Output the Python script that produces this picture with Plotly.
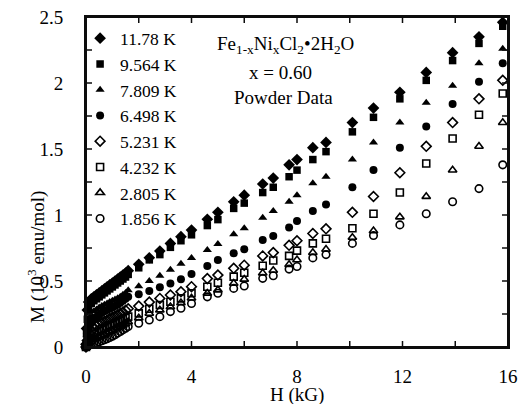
import plotly.graph_objects as go

# Field values (kG): dense low-field run followed by the main run
H_low = [0.0, 0.02, 0.05, 0.1, 0.2, 0.3, 0.4, 0.5, 0.6, 0.7, 0.8, 0.9, 1.0, 1.1, 1.2, 1.3, 1.4, 1.5]
H_main = [1.6, 2.0, 2.4, 2.8, 3.2, 3.6, 4.0, 4.6, 5.0, 5.6, 6.0, 6.7, 7.1, 7.7, 8.0, 8.6, 9.1,
          10.1, 10.9, 11.9, 12.9, 13.9, 14.9, 15.8]
H = H_low + H_main

temperatures = ["11.78 K", "9.564 K", "7.809 K", "6.498 K", "5.231 K", "4.232 K", "2.805 K", "1.856 K"]

# Magnetization (10^3 emu/mol)
M_1178 = [0.02, 0.14, 0.28, 0.34, 0.365, 0.38, 0.395, 0.41, 0.425, 0.44, 0.455, 0.47, 0.485, 0.50, 0.515, 0.53, 0.545, 0.56,
          0.578, 0.626, 0.676, 0.727, 0.785, 0.836, 0.886, 0.967, 1.02, 1.10, 1.15, 1.235, 1.28, 1.38, 1.42, 1.51, 1.55,
          1.70, 1.81, 1.93, 2.08, 2.23, 2.35, 2.46]
M_9564 = [0.01, 0.10, 0.21, 0.28, 0.33, 0.35, 0.365, 0.38, 0.395, 0.41, 0.425, 0.44, 0.455, 0.47, 0.485, 0.50, 0.515, 0.53,
          0.55, 0.60, 0.66, 0.70, 0.755, 0.805, 0.85, 0.92, 0.965, 1.05, 1.09, 1.17, 1.21, 1.29, 1.34, 1.42, 1.48,
          1.63, 1.74, 1.88, 2.02, 2.17, 2.30, 2.43]
M_7809 = [0.0, 0.06, 0.12, 0.18, 0.24, 0.27, 0.285, 0.30, 0.31, 0.32, 0.33, 0.34, 0.35, 0.36, 0.37, 0.38, 0.395, 0.41,
          0.43, 0.46, 0.50, 0.54, 0.585, 0.63, 0.675, 0.735, 0.78, 0.855, 0.90, 0.98, 1.03, 1.10, 1.15, 1.24, 1.29,
          1.42, 1.55, 1.70, 1.85, 1.98, 2.15, 2.26]
M_6498 = [0.0, 0.04, 0.08, 0.13, 0.18, 0.21, 0.23, 0.245, 0.26, 0.27, 0.28, 0.29, 0.30, 0.31, 0.32, 0.335, 0.35, 0.365,
          0.38, 0.40, 0.425, 0.452, 0.482, 0.513, 0.553, 0.614, 0.66, 0.71, 0.74, 0.81, 0.84, 0.905, 0.955, 1.03, 1.08,
          1.21, 1.34, 1.51, 1.67, 1.84, 2.01, 2.15]
M_5231 = [0.0, 0.02, 0.05, 0.08, 0.12, 0.145, 0.16, 0.175, 0.185, 0.195, 0.205, 0.215, 0.225, 0.235, 0.245, 0.255, 0.265, 0.278,
          0.29, 0.31, 0.34, 0.368, 0.394, 0.419, 0.457, 0.518, 0.545, 0.596, 0.62, 0.69, 0.715, 0.77, 0.805, 0.86, 0.895,
          1.02, 1.14, 1.32, 1.52, 1.70, 1.88, 2.02]
M_4232 = [0.0, 0.01, 0.03, 0.05, 0.08, 0.10, 0.115, 0.125, 0.135, 0.145, 0.155, 0.165, 0.17, 0.18, 0.19, 0.20, 0.21, 0.22,
          0.23, 0.255, 0.29, 0.318, 0.343, 0.368, 0.407, 0.457, 0.487, 0.533, 0.563, 0.615, 0.655, 0.69, 0.73, 0.785, 0.82,
          0.90, 1.01, 1.17, 1.39, 1.58, 1.76, 1.92]
M_2805 = [0.0, 0.005, 0.015, 0.025, 0.04, 0.055, 0.065, 0.075, 0.085, 0.095, 0.105, 0.115, 0.125, 0.135, 0.145, 0.155, 0.165, 0.175,
          0.19, 0.22, 0.255, 0.28, 0.305, 0.335, 0.37, 0.407, 0.432, 0.482, 0.513, 0.56, 0.58, 0.625, 0.66, 0.715, 0.74,
          0.83, 0.88, 0.985, 1.14, 1.34, 1.52, 1.70]
M_1856 = [0.0, 0.003, 0.008, 0.012, 0.02, 0.027, 0.033, 0.04, 0.047, 0.055, 0.063, 0.072, 0.082, 0.093, 0.105, 0.117, 0.13, 0.142,
          0.155, 0.18, 0.205, 0.23, 0.268, 0.293, 0.33, 0.38, 0.407, 0.444, 0.462, 0.52, 0.54, 0.59, 0.61, 0.675, 0.70,
          0.785, 0.845, 0.925, 1.01, 1.10, 1.20, 1.38]

series = [M_1178, M_9564, M_7809, M_6498, M_5231, M_4232, M_2805, M_1856]
symbols = ["diamond", "square", "triangle-up", "circle",
           "diamond-open", "square-open", "triangle-up-open", "circle-open"]
sizes = [9, 7.5, 8, 8, 7.5, 7, 7.5, 7.5]

# Axis ticks
x_range, x_major = [0, 16], 4
y_range, y_major = [0, 2.5], 0.5
x_tick_vals = [0, 2, 4, 6, 8, 10, 12, 14, 16]
y_tick_vals = [0, 0.25, 0.5, 0.75, 1, 1.25, 1.5, 1.75, 2, 2.25, 2.5]

FONT = "Liberation Serif, Times New Roman, serif"
INK = "rgb(12,12,12)"

fig = go.Figure()
for name, m, sym, sz in zip(temperatures, series, symbols, sizes):
    fig.add_trace(go.Scatter(
        x=H, y=m, mode="markers", name=name, cliponaxis=False,
        marker=dict(symbol=sym, size=sz, color="black",
                    line=dict(color="black", width=1.6 if "open" in sym else 0)),
    ))

axis_common = dict(showline=True, linecolor=INK, linewidth=2, mirror=True,
                   ticks="", showgrid=False, zeroline=False, automargin=False,
                   tickmode="linear", tick0=0)

# Frame and inside tick marks, placed through the axes' own scales
TICK_W, TICK_X_FRAC, TICK_Y_FRAC = 1.5, 6 / 330, 6 / 422
shapes = [dict(type="rect", xref="paper", yref="paper", x0=0, y0=0, x1=1, y1=1,
               fillcolor="rgba(0,0,0,0)", line=dict(color=INK, width=2), layer="above")]
for v in x_tick_vals:
    shapes.append(dict(type="line", xref="x", yref="y domain", x0=v, x1=v, y0=0, y1=TICK_X_FRAC,
                       line=dict(color=INK, width=TICK_W), layer="above"))
    shapes.append(dict(type="line", xref="x", yref="y domain", x0=v, x1=v, y0=1 - TICK_X_FRAC, y1=1,
                       line=dict(color=INK, width=TICK_W), layer="above"))
for v in y_tick_vals:
    shapes.append(dict(type="line", xref="x domain", yref="y", x0=0, x1=TICK_Y_FRAC, y0=v, y1=v,
                       line=dict(color=INK, width=TICK_W), layer="above"))
    shapes.append(dict(type="line", xref="x domain", yref="y", x0=1 - TICK_Y_FRAC, x1=1, y0=v, y1=v,
                       line=dict(color=INK, width=TICK_W), layer="above"))

fig.update_layout(
    width=521, height=404,
    margin=dict(l=86, r=13, t=17, b=57),
    paper_bgcolor="white", plot_bgcolor="white",
    font=dict(family=FONT, size=19, color="black"),
    xaxis=dict(range=x_range, dtick=x_major, ticklabelstandoff=11, **axis_common),
    yaxis=dict(range=y_range, dtick=y_major, ticklabelstandoff=17, **axis_common),
    legend=dict(x=-0.014, y=0.99, xanchor="left", yanchor="top", bgcolor="rgba(0,0,0,0)",
                itemwidth=30, font=dict(family=FONT, size=17.5, color="black"),
                tracegroupgap=0),
    showlegend=True,
    shapes=shapes,
    annotations=[
        dict(text="Fe<sub>1-x</sub>Ni<sub>x</sub>Cl<sub>2</sub>•2H<sub>2</sub>O",
             x=0.472, y=0.915, xref="paper", yref="paper", showarrow=False,
             xanchor="center", yanchor="middle", font=dict(family=FONT, size=19)),
        dict(text="x = 0.60", x=0.462, y=0.833, xref="paper", yref="paper", showarrow=False,
             xanchor="center", yanchor="middle", font=dict(family=FONT, size=19)),
        dict(text="Powder Data", x=0.469, y=0.755, xref="paper", yref="paper", showarrow=False,
             xanchor="center", yanchor="middle", font=dict(family=FONT, size=19)),
        dict(text="H (kG)", x=0.5, y=-0.146, xref="paper", yref="paper", showarrow=False,
             xanchor="center", yanchor="middle", font=dict(family=FONT, size=19)),
        dict(text="M (10<sup>3</sup> emu/mol)", x=-0.116, y=0.273, xref="paper", yref="paper",
             showarrow=False, textangle=-90, xanchor="center", yanchor="middle",
             font=dict(family=FONT, size=19)),
    ],
)

fig.write_html("out.html", config={"displayModeBar": False},
               post_script="document.body.style.margin='0px';")
